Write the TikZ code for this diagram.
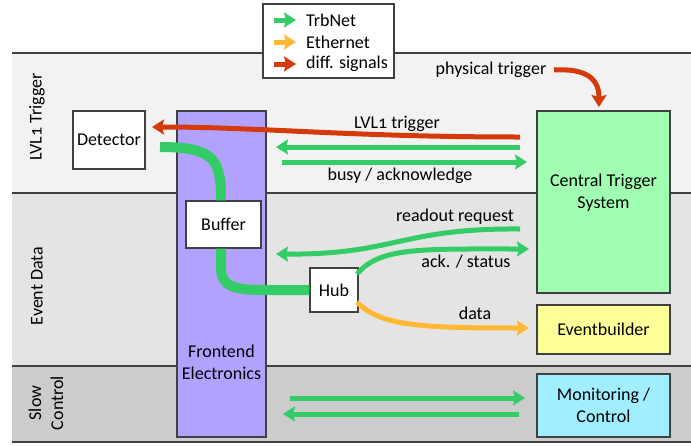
\documentclass[tikz,border=0pt]{standalone}
\usepackage{fontspec}
\setmainfont{Carlito}[Numbers=OldStyle]
\usetikzlibrary{arrows.meta}

\definecolor{trbgreen}{RGB}{52,204,102}
\definecolor{ethorange}{RGB}{255,184,51}
\definecolor{diffred}{RGB}{212,58,10}
\definecolor{boxline}{RGB}{64,64,64}
\definecolor{bandone}{RGB}{242,242,242}
\definecolor{bandtwo}{RGB}{228,228,228}
\definecolor{bandthree}{RGB}{204,204,204}
\definecolor{fepurple}{RGB}{179,161,255}
\definecolor{ctsgreen}{RGB}{160,255,176}
\definecolor{evbyellow}{RGB}{255,255,153}
\definecolor{monblue}{RGB}{160,238,255}

\tikzset{
  txt/.style={inner sep=0pt, font=\fontsize{18}{22}\selectfont, align=center},
  box/.style={txt, draw=boxline, line width=1.3pt, fill=white},
  tip/.style={-{Stealth[length=12pt,width=15pt,inset=2pt]}},
  trb/.style={draw=trbgreen, line width=5pt, tip},
  eth/.style={draw=ethorange, line width=5pt, tip},
  diff/.style={draw=diffred, line width=5pt, tip},
  thick trb/.style={draw=trbgreen, line width=10pt},
  bandline/.style={draw=boxline, line width=1.5pt}
}

\begin{document}
\begin{tikzpicture}[x=1pt,y=-1pt]
\useasboundingbox (0,0) rectangle (691,445);

% Drawing bands
\fill[bandone] (12,53) rectangle (691,193);
\fill[bandtwo] (12,193) rectangle (691,366);
\fill[bandthree] (12,366) rectangle (691,442);
\draw[bandline] (12,53) -- (691,53);
\draw[bandline] (12,193) -- (691,193);
\draw[bandline] (12,366) -- (691,366);
\draw[bandline] (12,442) -- (691,442);

% Band labels
\node[txt, rotate=90] (lvlband) at (37,117) {LVL1 Trigger};
\node[txt, rotate=90] (evband) at (37,286) {Event Data};
\node[txt, rotate=90] (scband) at (46,403) {Slow\\Control};

% Legend
\node[box, minimum width=131, minimum height=74] (legend) at (328.5,41) {};
\coordinate (lg1) at (274,20);
\coordinate (lg2) at (274,42);
\coordinate (lg3) at (274,64);
\draw[trb] (lg1) -- ++(22,0);
\draw[eth] (lg2) -- ++(22,0);
\draw[diff] (lg3) -- ++(22,0);
\node[txt, anchor=west] (lgtrb) at (306,20) {TrbNet};
\node[txt, anchor=west] (lgeth) at (306,42) {Ethernet};
\node[txt, anchor=west] (lgdiff) at (306,64) {diff. signals};

% Boxes
\node[box, fill=fepurple, minimum width=89, minimum height=326] (fe) at (221.5,274) {};
\node[txt] (fetext) at (221.5,362) {Frontend\\Electronics};
\node[box, minimum width=72, minimum height=58] (det) at (109,140) {Detector};
\node[box, minimum width=75, minimum height=47] (buf) at (223.5,224.5) {Buffer};
\node[box, minimum width=48, minimum height=44] (hub) at (334,290) {Hub};
\node[box, fill=ctsgreen, minimum width=133, minimum height=182] (cts) at (603.5,202) {};
\node[txt] (ctstext) at (603.5,193) {Central Trigger\\System};
\node[box, fill=evbyellow, minimum width=133, minimum height=49] (evb) at (603.5,329.5) {Eventbuilder};
\node[box, fill=monblue, minimum width=133, minimum height=63] (mon) at (603.5,405.5) {Monitoring /\\Control};

% Thick TrbNet from detector via buffer to hub
\coordinate (detout) at (160,147);
\draw[thick trb] (detout) .. controls (215,147) and (221,160) .. (buf.north -| 221,0);
\draw[thick trb] (buf.south -| 221,0) -- (221,268) .. controls (221,287) and (235,290) .. (265,290) -- (hub.west);

% Drawing physical trigger
\node[txt] (phys) at (491,70) {physical trigger};
\coordinate (physa) at (554,70);
\coordinate (physb) at (599,107);
\draw[diff] (physa) .. controls (588,68) and (599,80) .. (physb);

% Drawing LVL1 trigger
\coordinate (lvla) at (520,137);
\coordinate (lvlb) at (152,127);
\draw[diff] (lvla) .. controls (350,137) and (260,127) .. (lvlb);
\node[txt] (lvltext) at (397,124) {LVL1 trigger};

% Drawing busy / acknowledge
\coordinate (bsya) at (520,147);
\coordinate (bsyb) at (276,147);
\draw[trb] (bsya) -- (bsyb);
\coordinate (acka) at (282,162);
\coordinate (ackb) at (527,162);
\draw[trb] (acka) -- (ackb);
\node[txt] (bsytext) at (400,176) {busy / acknowledge};

% Drawing readout request
\coordinate (roa) at (520,229);
\coordinate (rob) at (276,254);
\draw[trb] (roa) .. controls (400,228) and (395,255) .. (rob);
\node[txt] (rotext) at (455,217) {readout request};

% Drawing ack. / status
\coordinate (sta) at (357,274);
\coordinate (stb) at (529,249);
\draw[trb] (sta) .. controls (380,247) and (420,249) .. (stb);
\node[txt] (sttext) at (466,262) {ack. / status};

% Drawing data
\coordinate (dta) at (357,302);
\coordinate (dtb) at (529,328);
\draw[eth] (dta) .. controls (380,326) and (420,328) .. (dtb);
\node[txt] (dttext) at (475,313) {data};

% Drawing slow control
\coordinate (sca) at (290,398);
\coordinate (scb) at (525,398);
\draw[trb] (sca) -- (scb);
\coordinate (scc) at (519,414);
\coordinate (scd) at (283,414);
\draw[trb] (scc) -- (scd);

\end{tikzpicture}
\end{document}
